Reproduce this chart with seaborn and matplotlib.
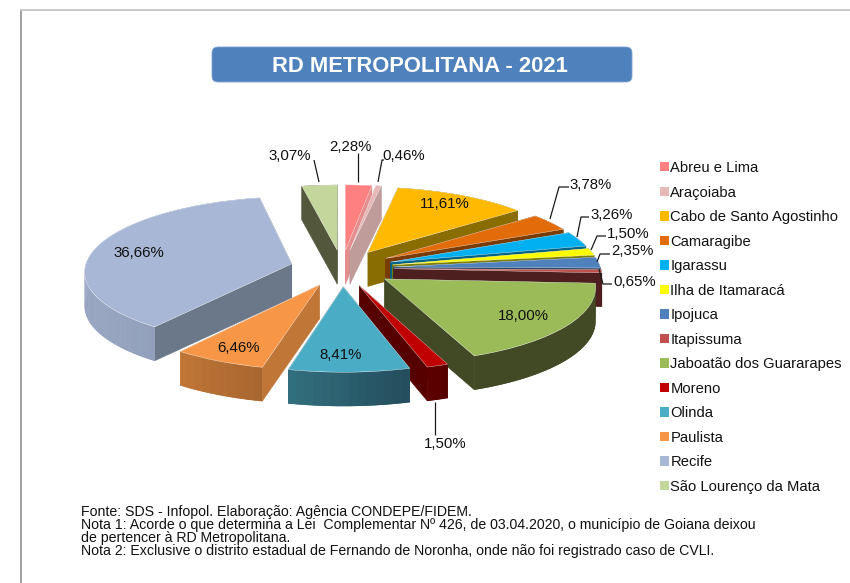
import matplotlib
matplotlib.use("Agg")
import numpy as np
import matplotlib.pyplot as plt
import seaborn as sns
from matplotlib.collections import PolyCollection
from matplotlib.colors import to_rgb
from matplotlib.patches import FancyBboxPatch, Rectangle
from matplotlib.transforms import Transform

CITIES = ["Abreu e Lima", "Araçoiaba", "Cabo de Santo Agostinho", "Camaragibe",
          "Igarassu", "Ilha de Itamaracá", "Ipojuca", "Itapissuma",
          "Jaboatão dos Guararapes", "Moreno", "Olinda", "Paulista", "Recife",
          "São Lourenço da Mata"]
SHARES = [2.28, 0.46, 11.61, 3.78, 3.26, 1.50, 2.35, 0.65, 18.00, 1.50, 8.41, 6.46, 36.66, 3.07]
TOP_COLORS = ["#FF8080", "#E6B9B8", "#FFBA00", "#E36C0A", "#00B0F0", "#FFFF00", "#4F81BD",
              "#C0504D", "#9BBB59", "#C00000", "#4BACC6", "#F79646", "#A8B7D5", "#C3D69B"]
CUT_COLORS = ["#E58C8C", "#BF9B9A", "#8A6D00", "#7A3B05", "#006488", "#7F7F00", "#2B4768",
              "#4D1F1F", "#414A24", "#560000", "#225060", "#C07636", "#6B7889", "#53573C"]
WALL_LEFT = ["#E58C8C", "#BF9B9A", "#8A6D00", "#7A3B05", "#006488", "#7F7F00", "#2B4768",
             "#4D1F1F", "#414A24", "#5E0000", "#33707F", "#C07636", "#9AA8C4", "#53573C"]
WALL_RIGHT = ["#E58C8C", "#BF9B9A", "#8A6D00", "#7A3B05", "#006488", "#7F7F00", "#2B4768",
              "#4D1F1F", "#414A24", "#560000", "#234C5C", "#A86630", "#8594AE", "#53573C"]
TITLE = "RD METROPOLITANA - 2021"
NOTES = ["Fonte: SDS - Infopol. Elaboração: Agência CONDEPE/FIDEM.",
         "Nota 1: Acorde o que determina a Lei  Complementar Nº 426, de 03.04.2020, o município de Goiana deixou",
         "de pertencer à RD Metropolitana.",
         "Nota 2: Exclusive o distrito estadual de Fernando de Noronha, onde não foi registrado caso de CVLI."]

# label centres (pixels) and leader polylines, same order as CITIES
LABEL_POS = [(350, 147), (404, 156), (445, 204), (591, 185), (612, 215), (628, 234), (632, 251),
             (635, 282), (523, 316), (445, 444), (341, 355), (239, 348), (139, 253), (290, 156)]
LEADERS = [[(358, 153), (358, 182)], [(384, 160), (382, 160), (378, 182)], None,
           [(569, 187), (559, 187), (550, 219)], [(589, 217), (581, 217), (577, 237)],
           [(606, 236), (597, 236), (591, 250)], [(610, 254), (600, 254), (597, 262)],
           [(612, 284), (603, 284), (599, 269)], None, [(435, 402), (435, 435)], None, None, None,
           [(314, 160), (319, 182)]]

EXPLODE = 0.25
XC, YC, RX, RY, PERSP, DEPTH = 342.0, 268.0, 207.0, 74.0, 0.09, 34.0


class Tilt(Transform):
    """Maps the flat unit pie to the tilted view, in pixel coordinates."""
    input_dims = output_dims = 2
    has_inverse = False

    def transform_non_affine(self, values):
        v = np.asarray(values, dtype=float)
        w = 1 + PERSP * v[:, 1]
        return np.column_stack([XC + RX * v[:, 0] / w, YC - RY * v[:, 1] / w])


sns.set_theme(style="white")
plt.rcParams["font.family"] = ["Liberation Sans", "DejaVu Sans"]
fig = plt.figure(figsize=(8.5, 5.83), dpi=100, facecolor="white")
ax = fig.add_axes([0, 0, 1, 1])
palette = sns.color_palette(TOP_COLORS)
wedges, _ = ax.pie(SHARES, colors=palette, explode=[EXPLODE] * len(SHARES), startangle=90,
                   counterclock=False, radius=1,
                   wedgeprops=dict(edgecolor="white", linewidth=0.25))
ax.set_aspect("auto")
ax.set_xlim(0, 850)
ax.set_ylim(583, 0)
ax.axis("off")
tilt = Tilt()


def bisector_v(w):
    return np.sin(np.radians((w.theta1 + w.theta2) / 2))


order = sorted(range(len(wedges)), key=lambda i: -bisector_v(wedges[i]))
for z, i in enumerate(order):
    w = wedges[i]
    cx, cy = w.center
    th = np.radians(np.linspace(w.theta1, w.theta2, max(8, int(w.theta2 - w.theta1) // 2)))
    arc = tilt.transform_non_affine(np.column_stack([cx + w.r * np.cos(th), cy + w.r * np.sin(th)]))
    apex = tilt.transform_non_affine(np.array([[cx, cy]]))[0]
    down = np.array([0, DEPTH])
    cuts = [[apex, p, p + down, apex + down] for p in (arc[0], arc[-1])]
    ax.add_collection(PolyCollection(cuts, facecolors=CUT_COLORS[i], edgecolors=CUT_COLORS[i],
                                     linewidths=0.3, zorder=4 * z + 2))
    left, right = np.array(to_rgb(WALL_LEFT[i])), np.array(to_rgb(WALL_RIGHT[i]))
    # solid wall underneath, so that the shaded strips show no seams
    ax.add_collection(PolyCollection([np.vstack([arc, arc[::-1] + down])], facecolors=[(left + right) / 2],
                                     edgecolors="none", zorder=4 * z + 3))
    quads = [[arc[k], arc[k + 1], arc[k + 1] + down, arc[k] + down] for k in range(len(arc) - 1)]
    lo, hi = arc[:, 0].min(), arc[:, 0].max()
    cols = [left + (right - left) * ((q[0][0] + q[1][0]) / 2 - lo) / max(hi - lo, 1) for q in quads]
    ax.add_collection(PolyCollection(quads, facecolors=cols, edgecolors="none", zorder=4 * z + 4))
    w.set_transform(tilt + ax.transData)
    w.set_clip_on(False)
    w.set_zorder(4 * z + 5)

TOP = 100
for i, share in enumerate(SHARES):
    ax.text(*LABEL_POS[i], f"{share:.2f}".replace(".", ",") + "%", ha="center", va="center",
            fontsize=10.8, color="#111111", zorder=TOP)
    if LEADERS[i]:
        xs, ys = zip(*LEADERS[i])
        ax.plot(xs, ys, color="#1a1a1a", lw=0.9, zorder=TOP, solid_capstyle="butt")

# Title banner
ax.add_patch(FancyBboxPatch((216, 51), 412, 27, boxstyle="round,pad=4,rounding_size=6",
                            fc="#4F81BD", ec="#7fa3d0", lw=0.6, zorder=TOP))
ax.text(420, 66, TITLE, ha="center", va="center", color="white", fontsize=15.8,
        fontweight="bold", zorder=TOP + 1)

# Legend
handles = [Rectangle((0, 0), 1, 1, fc=c, ec="none") for c in palette]
leg = ax.legend(handles, CITIES, loc="upper left", bbox_to_anchor=(660 / 850, 1 - 161 / 583),
                frameon=False, fontsize=10.6, handlelength=0.6, handleheight=0.6,
                handletextpad=0.1, labelspacing=0.715, borderpad=0, borderaxespad=0, labelcolor="#111111")

# Footnotes
for k, note in enumerate(NOTES):
    ax.text(81, 512 + 13 * k, note, ha="left", va="center", fontsize=10.2, color="#111111")

# Page border
ax.plot([21, 21], [10, 583], color="#a0a0a0", lw=1.4)
ax.plot([21, 850], [10, 10], color="#c8c8c8", lw=1.4)

fig.savefig("out.png", dpi=100, facecolor="white")
